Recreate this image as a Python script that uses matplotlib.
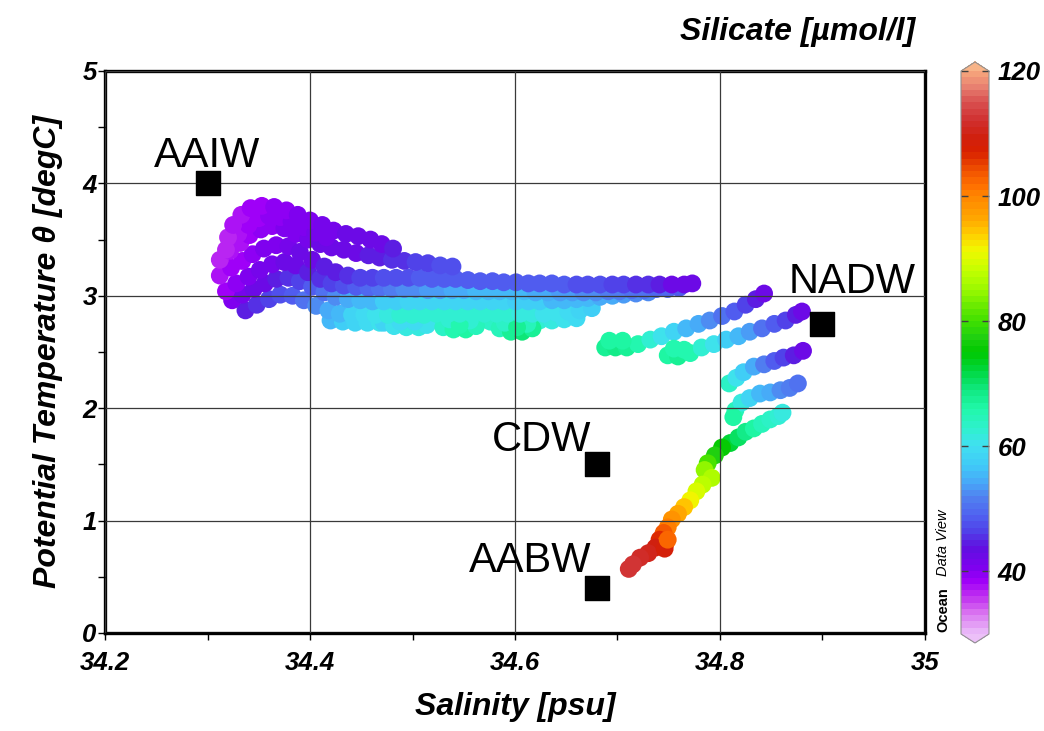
import matplotlib
matplotlib.use("Agg")
import matplotlib.pyplot as plt
from matplotlib.colors import LinearSegmentedColormap, Normalize
import numpy as np

# ---- data (salinity psu, potential temperature degC, silicate umol/l) ----
# upper cluster, left hook and long band
t1_s = [34.318, 34.320, 34.325, 34.333, 34.342, 34.353, 34.365, 34.377, 34.388, 34.400, 34.412, 34.423, 34.435, 34.447, 34.459, 34.470, 34.481]
t1_t = [3.41, 3.52, 3.63, 3.72, 3.78, 3.80, 3.79, 3.76, 3.72, 3.67, 3.63, 3.58, 3.55, 3.53, 3.50, 3.46, 3.42]
t1_si = [36, 36, 37, 37, 38, 38, 39, 39, 40, 40, 41, 41, 42, 42, 43, 43, 44]

h1_s = [34.330, 34.340, 34.350, 34.360, 34.371, 34.382, 34.394, 34.405, 34.416]
h1_t = [3.55, 3.63, 3.69, 3.71, 3.70, 3.66, 3.61, 3.56, 3.52]
h1_si = [37, 38, 38, 39, 39, 40, 40, 41, 41]

t2_s = [34.312, 34.322, 34.332, 34.341, 34.352, 34.363, 34.375, 34.386, 34.398, 34.410, 34.421, 34.433, 34.445, 34.457, 34.468, 34.480, 34.492, 34.503, 34.515, 34.527, 34.539]
t2_t = [3.32, 3.40, 3.47, 3.54, 3.59, 3.62, 3.60, 3.55, 3.50, 3.46, 3.43, 3.41, 3.38, 3.36, 3.34, 3.32, 3.31, 3.30, 3.29, 3.27, 3.26]
t2_si = [36, 37, 37, 38, 39, 39, 40, 40, 41, 42, 42, 43, 43, 44, 44, 45, 45, 46, 46, 47, 47]

t3_s = [34.312, 34.323, 34.334, 34.344, 34.355, 34.367, 34.379, 34.390, 34.402, 34.414,
        34.425, 34.437, 34.449, 34.461, 34.472, 34.484, 34.496, 34.507, 34.519, 34.531,
        34.542, 34.554, 34.566, 34.578, 34.589, 34.601, 34.613, 34.624, 34.636, 34.648,
        34.660, 34.671, 34.683, 34.695, 34.706, 34.718, 34.730, 34.741, 34.753, 34.765, 34.773]
t3_t = [3.18, 3.25, 3.31, 3.37, 3.42, 3.45, 3.44, 3.39, 3.32, 3.26,
        3.21, 3.18, 3.16, 3.16, 3.16, 3.16, 3.16, 3.16, 3.15, 3.15,
        3.15, 3.14, 3.13, 3.13, 3.12, 3.12, 3.11, 3.11, 3.11, 3.10,
        3.10, 3.10, 3.10, 3.10, 3.10, 3.10, 3.10, 3.10, 3.10, 3.10, 3.11]
t3_si = [37, 38, 38, 39, 40, 40, 41, 42, 43, 44,
         44, 45, 46, 46, 47, 47, 47, 48, 48, 48,
         48, 48, 48, 48, 48, 48, 48, 48, 48, 48,
         47, 47, 47, 46, 46, 45, 45, 44, 43, 42, 42]

t4_s = [34.318, 34.328, 34.340, 34.351, 34.363, 34.375, 34.386, 34.398, 34.410, 34.421,
        34.433, 34.445, 34.457, 34.468, 34.480, 34.492, 34.503, 34.515, 34.527, 34.539,
        34.550, 34.562, 34.574, 34.585, 34.597, 34.609, 34.620, 34.632, 34.644, 34.656,
        34.667, 34.679, 34.691, 34.702, 34.714, 34.726, 34.738, 34.749, 34.760]
t4_t = [3.04, 3.11, 3.17, 3.23, 3.28, 3.30, 3.27, 3.21, 3.15, 3.11,
        3.09, 3.08, 3.07, 3.07, 3.06, 3.06, 3.06, 3.05, 3.05, 3.05,
        3.05, 3.04, 3.04, 3.04, 3.04, 3.04, 3.03, 3.03, 3.03, 3.03,
        3.03, 3.03, 3.04, 3.04, 3.05, 3.05, 3.06, 3.06, 3.07]
t4_si = [38, 39, 40, 41, 41, 42, 43, 44, 45, 46,
         47, 48, 49, 50, 51, 52, 52, 53, 53, 54,
         54, 55, 55, 55, 55, 55, 54, 54, 53, 53,
         52, 52, 51, 51, 50, 50, 49, 49, 48]

t5_s = [34.324, 34.334, 34.345, 34.356, 34.367, 34.379, 34.390, 34.402, 34.414, 34.425,
        34.437, 34.449, 34.461, 34.472, 34.484, 34.496, 34.507, 34.519, 34.531, 34.542,
        34.554, 34.566, 34.578, 34.589, 34.601, 34.613, 34.624, 34.636, 34.648, 34.660,
        34.671, 34.683, 34.695, 34.706, 34.718, 34.730]
t5_t = [2.96, 3.01, 3.06, 3.11, 3.15, 3.16, 3.13, 3.08, 3.03, 2.99,
        2.97, 2.96, 2.95, 2.95, 2.95, 2.95, 2.95, 2.95, 2.95, 2.95,
        2.95, 2.95, 2.95, 2.95, 2.95, 2.95, 2.95, 2.96, 2.96, 2.97,
        2.98, 2.99, 3.00, 3.01, 3.02, 3.03]
t5_si = [40, 41, 42, 43, 44, 45, 46, 48, 50, 52,
         54, 55, 56, 57, 57, 58, 58, 58, 58, 58,
         58, 58, 58, 58, 57, 57, 57, 56, 56, 55,
         55, 54, 54, 53, 52, 52]

t6_s = [34.337, 34.348, 34.360, 34.371, 34.383, 34.394, 34.406, 34.418, 34.429, 34.441,
        34.453, 34.464, 34.476, 34.488, 34.500, 34.511, 34.523, 34.535, 34.546, 34.558,
        34.570, 34.582, 34.593, 34.605, 34.617, 34.628, 34.640, 34.652, 34.663, 34.675]
t6_t = [2.87, 2.92, 2.97, 3.01, 3.00, 2.96, 2.91, 2.87, 2.84, 2.83,
        2.83, 2.83, 2.83, 2.83, 2.83, 2.83, 2.84, 2.84, 2.84, 2.84,
        2.84, 2.84, 2.84, 2.84, 2.84, 2.84, 2.85, 2.86, 2.87, 2.89]
t6_si = [44, 45, 46, 47, 48, 50, 52, 54, 56, 58,
         59, 60, 61, 62, 62, 62, 62, 62, 62, 62,
         62, 62, 62, 61, 61, 60, 60, 59, 58, 57]

t7_s = [34.420, 34.432, 34.444, 34.456, 34.468, 34.480, 34.492, 34.504, 34.516, 34.528, 34.540,
        34.552, 34.564, 34.576, 34.588, 34.600, 34.612, 34.624, 34.636, 34.648, 34.660]
t7_t = [2.78, 2.77, 2.76, 2.76, 2.76, 2.76, 2.76, 2.77, 2.77, 2.77, 2.77,
        2.77, 2.77, 2.77, 2.77, 2.77, 2.77, 2.78, 2.78, 2.79, 2.80]
t7_si = [56, 57, 58, 59, 60, 61, 61, 62, 62, 62, 63,
         63, 63, 63, 63, 63, 62, 62, 61, 60, 59]

# green blobs under the band
b1_s = [34.472, 34.482, 34.494, 34.506, 34.514, 34.488, 34.502]
b1_t = [2.76, 2.73, 2.72, 2.72, 2.74, 2.77, 2.77]
b1_si = [58, 60, 61, 61, 60, 59, 59]
b2_s = [34.530, 34.540, 34.552, 34.562, 34.536, 34.556, 34.546]
b2_t = [2.72, 2.70, 2.70, 2.73, 2.79, 2.78, 2.74]
b2_si = [63, 65, 66, 64, 62, 62, 65]
b3_s = [34.585, 34.596, 34.607, 34.617, 34.590, 34.612, 34.602]
b3_t = [2.71, 2.68, 2.68, 2.71, 2.76, 2.75, 2.72]
b3_si = [64, 67, 69, 67, 63, 64, 67]

# right-hand profiles towards NADW
r1_s = [34.688, 34.698, 34.709, 34.720, 34.732, 34.743, 34.755, 34.767, 34.779, 34.790, 34.802, 34.814, 34.825, 34.835, 34.843, 34.692, 34.705]
r1_t = [2.54, 2.54, 2.54, 2.57, 2.61, 2.64, 2.68, 2.71, 2.75, 2.78, 2.82, 2.86, 2.92, 2.97, 3.02, 2.60, 2.60]
r1_si = [67, 68, 67, 65, 62, 60, 58, 56, 54, 52, 50, 48, 46, 44, 42, 66, 66]
r2_s = [34.749, 34.759, 34.771, 34.782, 34.794, 34.806, 34.818, 34.829, 34.841, 34.853, 34.864, 34.874, 34.880, 34.755, 34.765]
r2_t = [2.47, 2.46, 2.49, 2.54, 2.57, 2.61, 2.64, 2.68, 2.71, 2.75, 2.78, 2.83, 2.86, 2.53, 2.52]
r2_si = [66, 67, 65, 62, 60, 57, 55, 53, 50, 48, 46, 44, 42, 65, 65]
r3_s = [34.809, 34.816, 34.823, 34.833, 34.843, 34.853, 34.862, 34.872, 34.881]
r3_t = [2.22, 2.27, 2.32, 2.37, 2.39, 2.42, 2.45, 2.47, 2.51]
r3_si = [63, 60, 57, 54, 51, 48, 46, 44, 42]
r4_s = [34.815, 34.821, 34.829, 34.839, 34.849, 34.859, 34.868, 34.876, 34.813]
r4_t = [1.98, 2.05, 2.09, 2.13, 2.14, 2.16, 2.18, 2.22, 1.92]
r4_si = [64, 61, 58, 56, 54, 52, 51, 50, 66]
r5_s = [34.810, 34.818, 34.825, 34.833, 34.841, 34.849, 34.857, 34.861]
r5_t = [1.69, 1.74, 1.79, 1.82, 1.86, 1.90, 1.93, 1.96]
r5_si = [72, 70, 68, 66, 64, 63, 62, 61]

# deep tail towards AABW
tail_s = [34.802, 34.795, 34.788, 34.785, 34.792, 34.783, 34.777, 34.771, 34.765, 34.759, 34.753,
          34.749, 34.745, 34.741, 34.747, 34.737, 34.730, 34.722, 34.715, 34.711, 34.746, 34.749]
tail_t = [1.65, 1.58, 1.51, 1.45, 1.38, 1.32, 1.26, 1.18, 1.12, 1.06, 1.01,
          0.94, 0.89, 0.83, 0.80, 0.76, 0.71, 0.67, 0.61, 0.57, 0.75, 0.83]
tail_si = [75, 77, 80, 84, 86, 87, 89, 91, 94, 96, 98,
           100, 103, 106, 104, 109, 110, 111, 112, 112, 108, 102]

# water mass end members
wm_names = ["AAIW", "NADW", "CDW", "AABW"]
wm_s = [34.30, 34.90, 34.68, 34.68]
wm_t = [4.0, 2.75, 1.5, 0.4]

xticks = [34.2, 34.4, 34.6, 34.8, 35.0]
xtick_labels = ["34.2", "34.4", "34.6", "34.8", "35"]
yticks = [0, 1, 2, 3, 4, 5]
cbar_ticks = [40, 60, 80, 100, 120]

FONT = "Liberation Sans"


def odv_cmap():
    stops = [(30, "#e8b4f8"), (33, "#d870f0"), (35.5, "#c030f0"), (38, "#a000f8"),
             (40, "#8000f0"), (43.5, "#6010e0"), (46, "#5040e8"), (48.5, "#5060f0"),
             (51.5, "#5080f0"), (54, "#48a8f8"), (56.5, "#40c8f8"), (60, "#40e0f0"),
             (62.5, "#30f0d0"), (66, "#20f8a8"), (69, "#10e880"), (72, "#00d840"),
             (75, "#00c800"), (77.5, "#20d010"), (80, "#40e000"), (82, "#60e800"),
             (85, "#98f800"), (88, "#c0ff00"), (91.5, "#f0f800"), (94, "#ffd000"),
             (96.5, "#ffa800"), (100, "#ff8800"), (102, "#ff7000"), (104.5, "#f05000"),
             (107.5, "#d82000"), (110, "#d02010"), (112.5, "#d03030"), (115.5, "#d85050"),
             (118, "#e88070"), (120, "#f4a07a")]
    cm = LinearSegmentedColormap.from_list("odv", [((v - 30) / 90.0, c) for v, c in stops], N=90)
    cm.set_under("#ecc0f8")
    cm.set_over("#f8b488")
    return cm


def main():
    fig = plt.figure(figsize=(10.44, 7.31), dpi=100)
    ax = fig.add_axes([0.1006, 0.1341, 0.7854, 0.7688])

    cmap = odv_cmap()
    norm = Normalize(vmin=30, vmax=120)

    # draw lower rows first so the upper (purple) rows sit on top
    groups = [(t7_s, t7_t, t7_si),
              (b1_s, b1_t, b1_si), (b2_s, b2_t, b2_si), (b3_s, b3_t, b3_si),
              (t6_s, t6_t, t6_si), (t5_s, t5_t, t5_si), (t4_s, t4_t, t4_si),
              (t3_s, t3_t, t3_si), (t2_s, t2_t, t2_si), (h1_s, h1_t, h1_si),
              (t1_s, t1_t, t1_si), (r1_s, r1_t, r1_si), (r2_s, r2_t, r2_si),
              (r3_s, r3_t, r3_si), (r4_s, r4_t, r4_si), (r5_s, r5_t, r5_si),
              (tail_s, tail_t, tail_si)]
    s_all = np.concatenate([g[0] for g in groups])
    t_all = np.concatenate([g[1] for g in groups])
    si_all = np.concatenate([g[2] for g in groups])
    sc = ax.scatter(s_all, t_all, c=si_all, cmap=cmap, norm=norm, s=165,
                    edgecolors="none", zorder=1)

    # end members
    ax.scatter(wm_s, wm_t, marker="s", s=300, color="black", zorder=4)
    offsets = [(0, 11.5), (21, 22), (-40, 9.5), (-48, 11.5)]
    for name, x, y, off in zip(wm_names, wm_s, wm_t, offsets):
        ax.annotate(name, (x, y), xytext=off, textcoords="offset points",
                    ha="center", va="baseline", fontsize=30, family=FONT, zorder=5)

    ax.set_xlim(34.2, 35.0)
    ax.set_ylim(0, 5)
    ax.set_xticks(xticks, labels=xtick_labels)
    ax.set_xticks(np.arange(34.3, 35.0, 0.2), minor=True)
    ax.set_yticks(yticks)
    ax.set_yticks([0.5, 1.5, 2.5, 3.5, 4.5], minor=True)
    ax.set_axisbelow(False)
    ax.grid(True, which="major", color="#3a3a3a", linewidth=0.9)
    ax.tick_params(which="both", direction="out", length=5, width=1, color="black",
                   top=False, right=False)
    ax.tick_params(axis="x", pad=8)
    ax.tick_params(axis="y", pad=1)
    for lab in ax.get_xticklabels() + ax.get_yticklabels():
        lab.set_fontfamily(FONT)
        lab.set_fontweight("bold")
        lab.set_fontstyle("italic")
        lab.set_fontsize(18.5)
    for sp in ax.spines.values():
        sp.set_linewidth(2.4)
        sp.set_color("black")

    lab_font = dict(family=FONT, weight="bold", style="italic", size=23)
    ax.set_xlabel("Salinity [psu]", labelpad=12, **lab_font)
    ax.set_ylabel("Potential Temperature θ [degC]", labelpad=14, **lab_font)

    # colour bar
    cax = fig.add_axes([0.9205, 0.1204, 0.0268, 0.7948])
    cb = fig.colorbar(sc, cax=cax, extend="both", extendfrac=0.016, ticks=cbar_ticks)
    cb.outline.set_edgecolor("#909090")
    cb.outline.set_linewidth(0.8)
    cax.tick_params(direction="in", length=5, width=1, color="#404040",
                    left=True, right=True, pad=6)
    for lab in cax.get_yticklabels():
        lab.set_fontfamily(FONT)
        lab.set_fontweight("bold")
        lab.set_fontstyle("italic")
        lab.set_fontsize(18.5)

    fig.text(915 / 1044, 1 - 40 / 731, "Silicate [µmol/l]", ha="right", va="baseline", **lab_font)
    fig.text(943 / 1044, 1 - 632 / 731, "Ocean", rotation=90, ha="center", va="bottom",
             family=FONT, weight="bold", size=10.5)
    fig.text(943 / 1044, 1 - 576 / 731, "Data View", rotation=90, ha="center", va="bottom",
             family=FONT, style="italic", size=10.5)

    fig.savefig("out.png", dpi=100)


main()
